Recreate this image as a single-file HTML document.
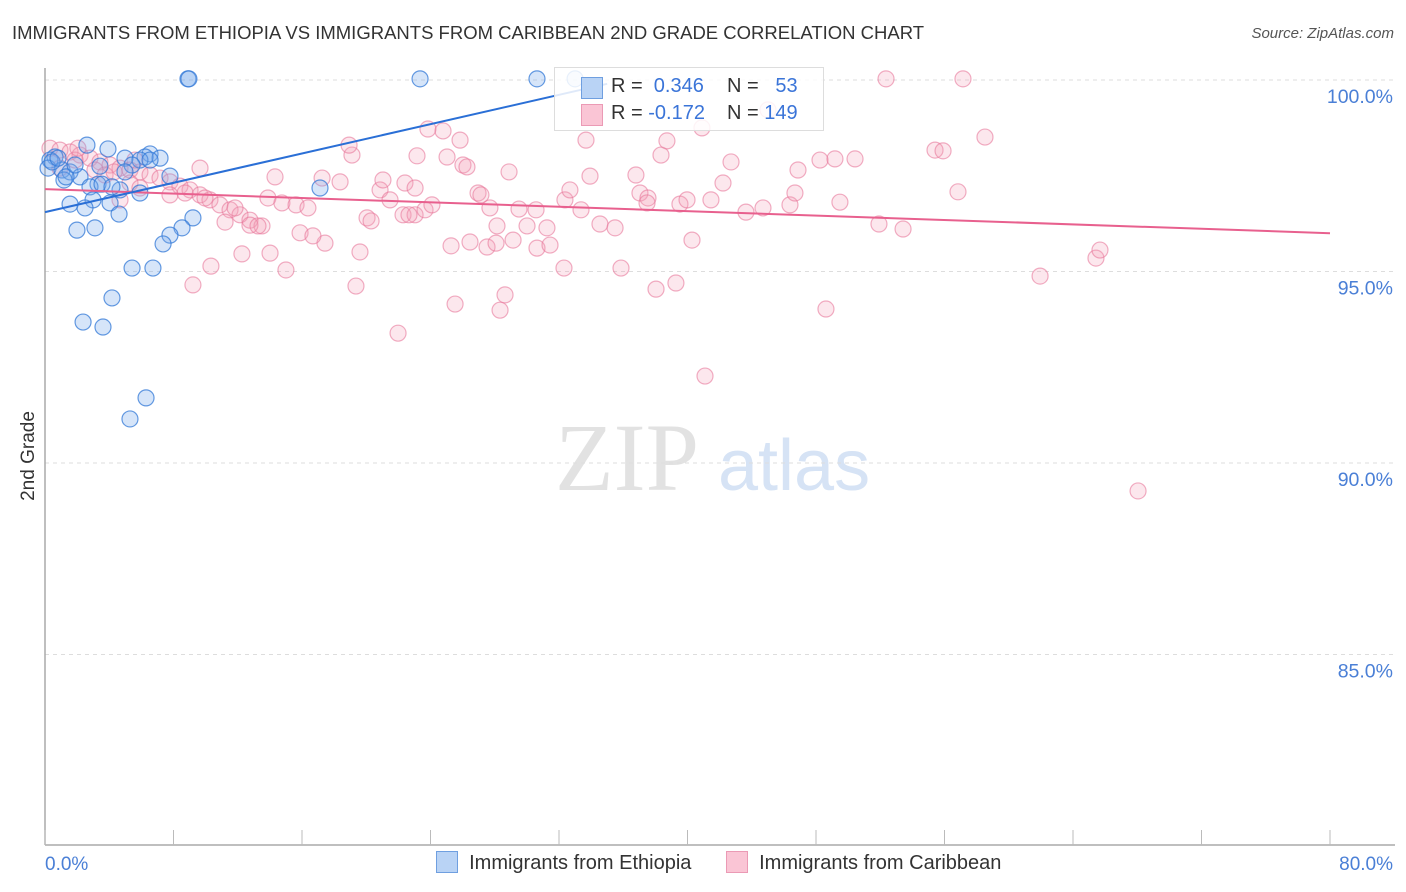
<!DOCTYPE html>
<html><head><meta charset="utf-8"><style>
body{margin:0;background:#fff;font-family:"Liberation Sans",sans-serif;}
#wrap{position:relative;width:1406px;height:892px;overflow:hidden;}
</style></head><body>
<div id="wrap">
<div style="position:absolute;left:12px;top:22px;font-size:18.5px;color:#333">IMMIGRANTS FROM ETHIOPIA VS IMMIGRANTS FROM CARIBBEAN 2ND GRADE CORRELATION CHART</div>
<div style="position:absolute;right:12px;top:25px;font-size:15px;color:#555;font-style:italic">Source: ZipAtlas.com</div>
<svg id="svg" width="1406" height="892" style="position:absolute;left:0;top:0"></svg>
</div>
<script>
const yTicks=[100,95,90,85];
const yTickLabels=["100.0%","95.0%","90.0%","85.0%"];
const xTickLabels=["0.0%","80.0%"];
const ethPx=[[188,79],[189,79],[420,79],[537,79],[575,79],[87,145],[108,149],[150,154],[125,158],[160,158],[145,157],[55,157],[50,160],[48,168],[62,170],[70,172],[80,177],[64,180],[98,184],[90,187],[120,190],[102,184],[112,187],[140,193],[320,188],[170,176],[93,200],[70,204],[85,208],[110,203],[119,214],[193,218],[182,228],[77,230],[95,228],[170,235],[163,244],[132,268],[153,268],[112,298],[83,322],[103,327],[146,398],[130,419],[140,160],[150,160],[132,165],[125,172],[52,162],[58,158],[66,177],[100,166],[75,165]];
const carPx=[[886,79],[963,79],[50,148],[60,150],[70,152],[80,155],[90,158],[100,162],[110,165],[120,168],[130,170],[140,172],[150,175],[160,178],[170,182],[180,186],[190,190],[200,195],[210,200],[220,205],[230,210],[240,215],[250,220],[262,226],[275,177],[268,198],[282,203],[296,205],[308,208],[322,178],[340,182],[352,155],[349,145],[380,190],[383,180],[405,183],[390,200],[403,215],[415,215],[425,210],[432,205],[428,129],[443,131],[417,156],[447,157],[463,165],[467,167],[478,193],[481,195],[490,208],[509,172],[519,209],[536,210],[497,226],[527,226],[547,228],[565,200],[570,190],[586,140],[590,176],[581,210],[600,224],[615,228],[636,175],[640,193],[648,198],[647,203],[661,155],[667,141],[680,204],[687,200],[702,128],[711,200],[723,183],[731,162],[746,212],[763,208],[790,205],[798,170],[795,193],[820,160],[835,159],[855,159],[840,202],[879,224],[903,229],[935,150],[943,151],[958,192],[985,137],[1040,276],[1096,258],[1100,250],[1138,491],[826,309],[705,376],[398,333],[455,304],[500,310],[505,295],[356,286],[193,285],[211,266],[242,254],[270,253],[286,270],[325,243],[360,252],[451,246],[470,242],[487,247],[496,243],[513,240],[537,248],[550,245],[564,268],[621,268],[656,289],[676,283],[692,240],[300,233],[313,236],[170,195],[185,193],[205,198],[225,222],[235,208],[250,225],[258,226],[367,218],[371,221],[409,215],[460,140],[415,188],[200,168],[130,183],[140,188],[120,200],[60,168],[75,160],[95,170],[105,175],[78,148],[114,172],[135,160],[768,110]];
const toData=p=>[+((p[0]-45)/16.0625).toFixed(2),+(100-(p[1]-80)/38.3).toFixed(2)];
const ethX=ethPx.map(p=>toData(p)[0]), ethY=ethPx.map(p=>toData(p)[1]);
const carX=carPx.map(p=>toData(p)[0]), carY=carPx.map(p=>toData(p)[1]);
const ethTrend=[[0,96.55],[35,99.9]];
const carTrend=[[0,97.15],[80,96.0]];

const X=v=>45+v*16.0625, Y=v=>80+(100-v)*38.3;
const svg=document.getElementById('svg');const NS='http://www.w3.org/2000/svg';
function mk(t,a,p){const e=document.createElementNS(NS,t);for(const k in a)e.setAttribute(k,a[k]);(p||svg).appendChild(e);return e;}
let w=mk('text',{x:555,y:490,'font-family':'Liberation Serif,serif','font-size':96,fill:'#e2e2e2'});w.textContent='ZIP';

w=mk('text',{x:718,y:490,'font-family':'Liberation Sans,sans-serif','font-size':72,fill:'#d6e3f5'});w.textContent='atlas';

yTicks.forEach((t,i)=>{const g=mk('line',{x1:45,x2:1395,y1:Y(t),y2:Y(t),stroke:'#ddd','stroke-dasharray':'4,4'});

const l=mk('text',{x:1393,y:Y(t)+23,'text-anchor':'end','font-size':19.5,fill:'#4a7fd6'});l.textContent=yTickLabels[i];
});
let a=mk('line',{x1:45,x2:45,y1:68,y2:845,stroke:'#aaa','stroke-width':1.5});
a=mk('line',{x1:45,x2:1395,y1:845,y2:845,stroke:'#aaa','stroke-width':1.5});
for(let i=0;i<=10;i++){const t=mk('line',{x1:X(i*8),x2:X(i*8),y1:830,y2:845,stroke:'#bbb'});}
let xl=mk('text',{x:45,y:870,'font-size':19,fill:'#4a7fd6'});xl.textContent=xTickLabels[0];
xl=mk('text',{x:1393,y:870,'text-anchor':'end','font-size':19,fill:'#4a7fd6'});xl.textContent=xTickLabels[1];
let yt=mk('text',{x:34,y:456,'text-anchor':'middle','font-size':19,fill:'#333',transform:'rotate(-90 34 456)'});yt.textContent='2nd Grade';

carX.forEach((x,i)=>{const c=mk('circle',{cx:X(x),cy:Y(carY[i]),r:8,fill:'rgba(244,160,185,0.25)',stroke:'rgba(232,120,155,0.6)','stroke-width':1.2});
});
ethX.forEach((x,i)=>{const c=mk('circle',{cx:X(x),cy:Y(ethY[i]),r:8,fill:'rgba(120,170,235,0.3)',stroke:'rgba(50,120,215,0.75)','stroke-width':1.2});
});
let tl=mk('line',{x1:X(carTrend[0][0]),y1:Y(carTrend[0][1]),x2:X(carTrend[1][0]),y2:Y(carTrend[1][1]),stroke:'#e8608e','stroke-width':2});

tl=mk('line',{x1:X(ethTrend[0][0]),y1:Y(ethTrend[0][1]),x2:X(ethTrend[1][0]),y2:Y(ethTrend[1][1]),stroke:'#2a6fd6','stroke-width':2});

</script>
<div style="position:absolute;left:554px;top:67px;width:268px;height:62px;background:rgba(255,255,255,0.85);border:1px solid #ddd;font-size:20px">
 <div style="position:absolute;left:26px;top:9px;width:20px;height:20px;background:#b9d3f5;border:1px solid #6f9fe0"></div>
 <div style="position:absolute;left:56px;top:7px;color:#333">R = <span style="color:#3a74d8">&nbsp;0.346</span></div>
 <div style="position:absolute;left:172px;top:7px;color:#333">N = <span style="color:#3a74d8">&nbsp;&nbsp;53</span></div>
 <div style="position:absolute;left:26px;top:36px;width:20px;height:20px;background:#fac5d5;border:1px solid #eb9ab5"></div>
 <div style="position:absolute;left:56px;top:34px;color:#333">R = <span style="color:#3a74d8">-0.172</span></div>
 <div style="position:absolute;left:172px;top:34px;color:#333">N = <span style="color:#3a74d8">149</span></div>
</div>
<div style="position:absolute;top:851px;left:436px;font-size:20px;color:#333">
 <span style="position:absolute;left:0;top:0;white-space:nowrap"><span style="display:inline-block;width:20px;height:20px;background:#b9d3f5;border:1px solid #6f9fe0;vertical-align:-4px"></span>&nbsp; Immigrants from Ethiopia</span>
 <span style="position:absolute;left:290px;top:0;white-space:nowrap"><span style="display:inline-block;width:20px;height:20px;background:#fac5d5;border:1px solid #eb9ab5;vertical-align:-4px"></span>&nbsp; Immigrants from Caribbean</span>
</div>
</body></html>
